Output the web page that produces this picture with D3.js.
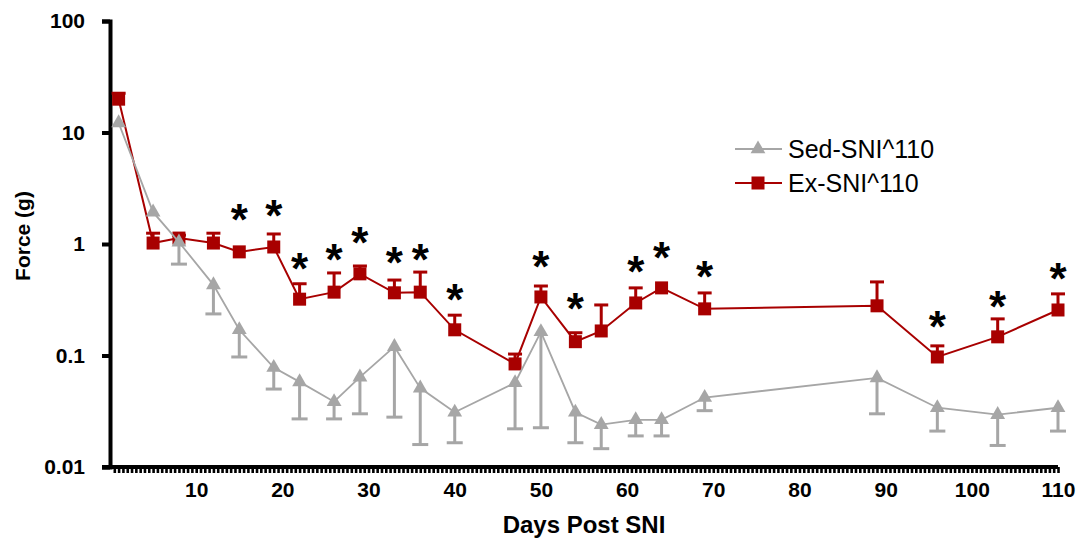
<!DOCTYPE html>
<html>
<head>
<meta charset="utf-8">
<script src="https://cdn.jsdelivr.net/npm/d3@7"></script>
<style>
  body { margin: 0; background: #fff; }
  svg { display: block; font-family: "Liberation Sans", Arial, sans-serif; }
</style>
</head>
<body>
<svg id="chart" width="1083" height="546"></svg>
<script>
// days after SNI where force was measured
const days = [1, 5, 8, 12, 15, 19, 22, 26, 29, 33, 36, 40, 47, 50, 54, 57, 61, 64, 69, 89, 96, 103, 110];

// Sed-SNI^110 mean and lower end of its error bar
const sedMean = [12.2, 1.93, 1.04, 0.43, 0.17, 0.078, 0.058, 0.0385, 0.064, 0.12, 0.051, 0.031, 0.057, 0.163, 0.031, 0.024, 0.0265, 0.0265, 0.042, 0.063, 0.034, 0.0295, 0.034];
const sedLower = [null, null, 0.66, 0.236, 0.097, 0.05, 0.027, 0.027, 0.03, 0.028, 0.0159, 0.0165, 0.022, 0.0225, 0.0165, 0.0146, 0.019, 0.019, 0.032, 0.03, 0.021, 0.0156, 0.021];

// Ex-SNI^110 mean and upper end of its error bar
const exMean = [19.9, 1.02, 1.13, 1.02, 0.85, 0.94, 0.32, 0.37, 0.54, 0.365, 0.37, 0.17, 0.084, 0.335, 0.133, 0.166, 0.296, 0.404, 0.262, 0.279, 0.097, 0.147, 0.256];
const exUpper = [22.5, 1.25, 1.2, 1.25, null, 1.23, 0.44, 0.55, 0.635, 0.475, 0.56, 0.23, 0.103, 0.42, 0.16, 0.284, 0.404, null, 0.364, 0.457, 0.122, 0.213, 0.357];

// significance asterisks: day and force level where each sits
const starDays = [15, 19, 22, 26, 29, 33, 36, 40, 50, 54, 61, 64, 69, 96, 103, 110];
const starLevel = [1.97, 2.14, 0.72, 0.866, 1.23, 0.814, 0.866, 0.38, 0.749, 0.315, 0.676, 0.902, 0.61, 0.218, 0.329, 0.585];

const yTicks = [0.01, 0.1, 1, 10, 100];
const xTicks = [10, 20, 30, 40, 50, 60, 70, 80, 90, 100, 110];
const seriesNames = ["Sed-SNI^110", "Ex-SNI^110"];

const gray = "#a6a6a6";
const red = "#a80000";

const svg = d3.select("#chart");
const margin = { top: 21, right: 25, bottom: 79, left: 110 };
const width = 1083, height = 546;

const x = d3.scaleLinear().domain([0, 110]).range([margin.left, width - margin.right]);
const y = d3.scaleLog().domain([0.01, 100]).range([height - margin.bottom, margin.top]);

// y axis
const yAxis = svg.append("g")
  .attr("transform", `translate(${margin.left},0)`)
  .call(d3.axisLeft(y).tickValues(yTicks).tickSize(8).tickFormat(d => d >= 1 ? d3.format("d")(d) : d));
yAxis.select(".domain").attr("stroke", "#000").attr("stroke-width", 4);
yAxis.selectAll(".tick line").attr("stroke", "#000").attr("stroke-width", 4);
yAxis.selectAll(".tick text")
  .attr("x", -25)
  .attr("font-size", 21).attr("font-weight", "bold").attr("fill", "#000")
  .attr("font-family", "Liberation Sans, Arial, sans-serif");

// x axis: dense minor ticks plus labels
const minor = d3.range(0.5, 110.01, 0.5);
const xAxis = svg.append("g")
  .attr("transform", `translate(0,${height - margin.bottom})`)
  .call(d3.axisBottom(x).tickValues(minor).tickSize(6).tickFormat(""));
xAxis.select(".domain").attr("stroke", "#000").attr("stroke-width", 4).attr("d", `M${margin.left - 8},0H${x(110)}`);
xAxis.selectAll(".tick line").attr("stroke", "#000").attr("stroke-width", 2.6);

const xLabels = svg.append("g")
  .attr("transform", `translate(0,${height - margin.bottom})`)
  .call(d3.axisBottom(x).tickValues(xTicks).tickSize(0));
xLabels.select(".domain").remove();
xLabels.selectAll(".tick text")
  .attr("y", 15)
  .attr("font-size", 21).attr("font-weight", "bold").attr("fill", "#000")
  .attr("font-family", "Liberation Sans, Arial, sans-serif");

// axis titles
svg.append("text")
  .attr("x", (margin.left + x(110)) / 2)
  .attr("y", 533)
  .attr("text-anchor", "middle")
  .attr("font-size", 24).attr("font-weight", "bold")
  .text("Days Post SNI");

svg.append("text")
  .attr("transform", `translate(30,236) rotate(-90)`)
  .attr("text-anchor", "middle")
  .attr("font-size", 21).attr("font-weight", "bold")
  .text("Force (g)");

const line = d3.line().x(d => x(d[0])).y(d => y(d[1]));

// Ex series
const exData = days.map((d, i) => [d, exMean[i], exUpper[i]]);
svg.append("path")
  .datum(exData)
  .attr("fill", "none").attr("stroke", red).attr("stroke-width", 2)
  .attr("d", line);
const exErr = svg.append("g").selectAll("g")
  .data(exData.filter(d => d[2] != null))
  .join("g");
exErr.append("line")
  .attr("x1", d => x(d[0])).attr("x2", d => x(d[0]))
  .attr("y1", d => y(d[1])).attr("y2", d => y(d[2]))
  .attr("stroke", red).attr("stroke-width", 3);
exErr.append("line")
  .attr("x1", d => x(d[0]) - 7).attr("x2", d => x(d[0]) + 7)
  .attr("y1", d => y(d[2])).attr("y2", d => y(d[2]))
  .attr("stroke", red).attr("stroke-width", 3);
svg.append("g").selectAll("rect")
  .data(exData)
  .join("rect")
  .attr("x", d => x(d[0]) - 6.5).attr("y", d => y(d[1]) - 6.5)
  .attr("width", 13).attr("height", 13)
  .attr("fill", red);

// Sed series
const sedData = days.map((d, i) => [d, sedMean[i], sedLower[i]]);
svg.append("path")
  .datum(sedData)
  .attr("fill", "none").attr("stroke", gray).attr("stroke-width", 1.8)
  .attr("d", line);
const sedErr = svg.append("g").selectAll("g")
  .data(sedData.filter(d => d[2] != null))
  .join("g");
sedErr.append("line")
  .attr("x1", d => x(d[0])).attr("x2", d => x(d[0]))
  .attr("y1", d => y(d[1])).attr("y2", d => y(d[2]))
  .attr("stroke", gray).attr("stroke-width", 3);
sedErr.append("line")
  .attr("x1", d => x(d[0]) - 8).attr("x2", d => x(d[0]) + 8)
  .attr("y1", d => y(d[2])).attr("y2", d => y(d[2]))
  .attr("stroke", gray).attr("stroke-width", 3);
const tri = d3.symbol(d3.symbolTriangle).size(95);
svg.append("g").selectAll("path")
  .data(sedData)
  .join("path")
  .attr("transform", d => `translate(${x(d[0])},${y(d[1])})`)
  .attr("d", tri)
  .attr("fill", gray);

// asterisks
svg.append("g").selectAll("text")
  .data(starDays.map((d, i) => [d, starLevel[i]]))
  .join("text")
  .attr("x", d => x(d[0]))
  .attr("y", d => y(d[1]) + 24)
  .attr("text-anchor", "middle")
  .attr("font-size", 44).attr("font-weight", "bold")
  .text("*");

// legend
const legend = svg.append("g").attr("transform", "translate(735,149)");
seriesNames.forEach((name, i) => {
  const g = legend.append("g").attr("transform", `translate(0,${i * 34})`);
  const c = i === 0 ? gray : red;
  g.append("line").attr("x1", 0).attr("x2", 47).attr("stroke", c).attr("stroke-width", i === 0 ? 1.8 : 2);
  if (i === 0) g.append("path").attr("transform", "translate(23,0)").attr("d", tri).attr("fill", c);
  else g.append("rect").attr("x", 16.5).attr("y", -6.5).attr("width", 13).attr("height", 13).attr("fill", c);
  g.append("text")
    .attr("x", 53).attr("dy", "0.35em")
    .attr("font-size", 25)
    .text(name);
});
</script>
</body>
</html>
